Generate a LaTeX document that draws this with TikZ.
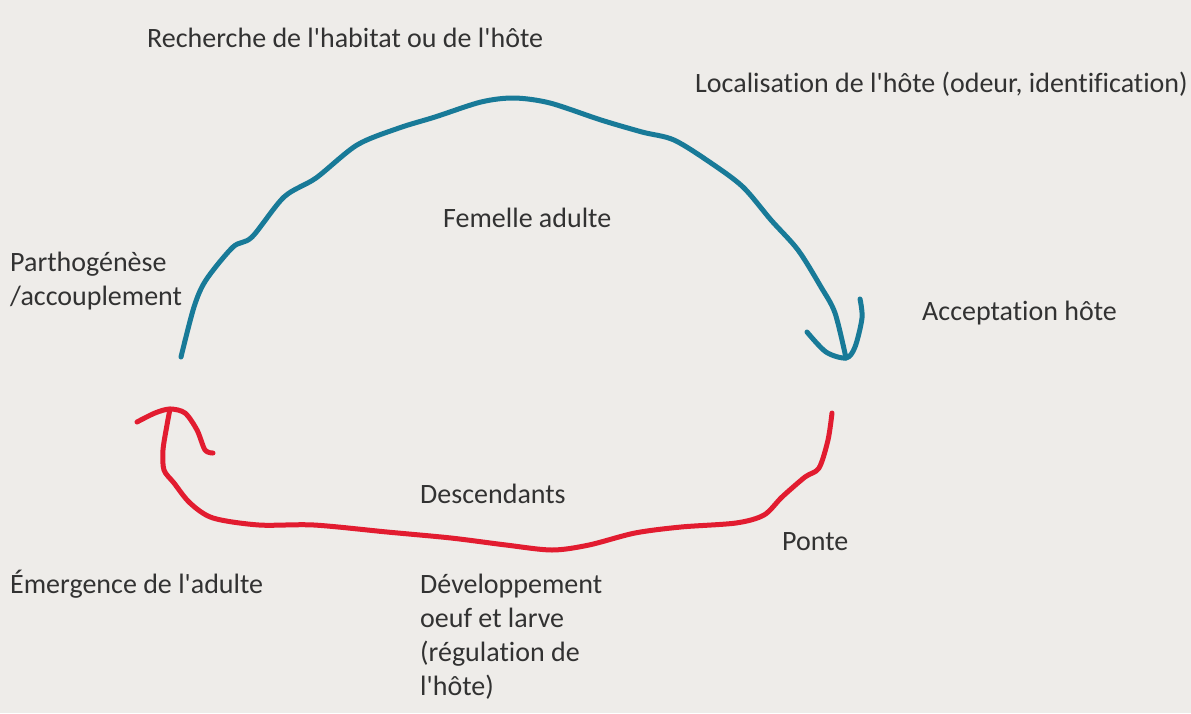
\documentclass[tikz,border=0pt]{standalone}
\usepackage{fontspec}
\setmainfont{Carlito}[Ligatures={NoCommon,NoContextual},RawFeature={-liga,-clig,-dlig,-calt}]
\newcommand{\apos}{\textquotesingle}
\newcommand{\nolig}{\kern0pt }
\definecolor{bg}{RGB}{238,236,233}
\definecolor{txt}{RGB}{50,50,50}
\definecolor{cblue}{RGB}{24,122,152}
\definecolor{cred}{RGB}{226,28,48}
\begin{document}
\begin{tikzpicture}[x=1pt,y=-1pt,
  lbl/.style={anchor=base west,inner sep=0pt,text=txt,align=left,font=\fontsize{28}{34}\selectfont},
  bluestroke/.style={draw=cblue,line width=5pt,line cap=round,line join=round},
  redstroke/.style={draw=cred,line width=5pt,line cap=round,line join=round}]
\fill[bg] (0,0) rectangle (1191,713);
\useasboundingbox (0,0) rectangle (1191,713);
% labels
\node[lbl] (rech) at (147,47) {Recherche de l\apos habitat ou de l\apos hôte};
\node[lbl] (loc) at (695,92) {Localisat\nolig ion de l\apos hôte (odeur, ident\nolig if\nolig icat\nolig ion)};
\node[lbl] (fem) at (443,227) {Femelle adulte};
\node[lbl] (parth) at (10,305) {Parthogénèse\\/accouplement};
\node[lbl] (acc) at (922,320) {Acceptat\nolig ion hôte};
\node[lbl] (desc) at (420,503) {Descendants};
\node[lbl] (ponte) at (782,550) {Ponte};
\node[lbl] (emer) at (10,593) {Émergence de l\apos adulte};
\node[lbl] (dev) at (420,695) {Développement\\oeuf et larve\\(régulat\nolig ion de\\l\apos hôte)};
% blue arc
\coordinate (bstart) at (181,357);
\coordinate (btip) at (846,358);
\draw[bluestroke] plot[smooth,tension=0.5] coordinates {
 (bstart) (194,307) (206,280) (233,247) (252,237) (284,197) (316,178)
 (357,145) (399,128) (435,117) (481,102) (514,98) (550,103) (601,120)
 (642,132) (674,140) (711,163) (743,187) (771,220) (798,250) (821,287)
 (835,313) (btip)};
\draw[bluestroke] plot[smooth,tension=0.5] coordinates {(807,332) (826,352) (btip) (855,347) (862,318) (860,299)};
% red arc
\coordinate (rstart) at (832,413);
\coordinate (rtip) at (170,409);
\draw[redstroke] plot[smooth,tension=0.5] coordinates {
 (rstart) (828,440) (819,468) (805,477) (782,497) (764,515) (736,523)
 (681,527) (635,533) (589,545) (552,550) (506,545) (451,538) (387,532)
 (314,525) (259,525) (213,518) (190,503) (174,483) (164,470) (163,450)
 (167,425) (rtip)};
\draw[redstroke] plot[smooth,tension=0.5] coordinates {(137,422) (155,413) (rtip) (185,413) (197,430) (205,450) (213,453)};
\end{tikzpicture}
\end{document}
